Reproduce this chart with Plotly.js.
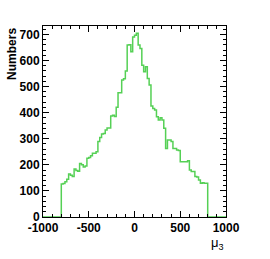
<!DOCTYPE html>
<html>
<head>
<meta charset="utf-8">
<script src="https://cdn.plot.ly/plotly-3.0.1.min.js"></script>
<style>html,body{margin:0;padding:0;background:#fff;}#chart{width:270px;height:259px;}</style>
</head>
<body>
<div id="chart"></div>
<script>
// Histogram of mu_3: 80 bins of width 20 from -800 to 800 (zero elsewhere in [-1000,1000])
const binStart = -800;
const binWidth = 20;
const counts = [
  126, 128, 135, 145, 165, 160, 155, 184, 178, 175,
  205, 200, 192, 195, 225, 228, 235, 244, 244, 250,
  289, 305, 318, 320, 333, 341, 341, 387, 390, 385,
  421, 476, 476, 525, 530, 560, 659, 660, 633, 690,
  697, 704, 659, 646, 582, 557, 576, 531, 506, 425,
  416, 410, 384, 372, 380, 372, 340, 263, 295, 295,
  289, 263, 263, 257, 255, 212, 212, 212, 212, 216,
  180, 174, 174, 155, 153, 142, 129, 131, 129, 129
];
const xRange = [-1000, 1000];
const yRange = [0, 732];
const xTicks = [-1000, -500, 0, 500, 1000];
const yTicks = [0, 100, 200, 300, 400, 500, 600, 700];

const xs = [xRange[0]];
const ys = [0];
counts.forEach((c, i) => { xs.push(binStart + i * binWidth); ys.push(c); });
xs.push(binStart + counts.length * binWidth); ys.push(0);
xs.push(xRange[1]); ys.push(0);

const tickFont = {family: 'Liberation Sans, Arial, sans-serif', size: 12, color: '#000', weight: 'bold'};

const trace = {
  x: xs, y: ys, type: 'scatter', mode: 'lines',
  line: {shape: 'hv', color: '#55d055', width: 1.5},
  hoverinfo: 'skip'
};

const axisCommon = {
  showgrid: false, zeroline: false, showline: true, linecolor: '#000', linewidth: 1,
  mirror: 'ticks', ticks: 'inside', ticklen: 6, tickcolor: '#000', tickwidth: 1,
  tickfont: tickFont
};

const layout = {
  width: 270, height: 259,
  margin: {l: 43, r: 44, t: 26, b: 42},
  paper_bgcolor: '#fff', plot_bgcolor: '#fff',
  showlegend: false,
  xaxis: Object.assign({}, axisCommon, {
    range: xRange, tickvals: xTicks, ticktext: xTicks.map(String),
    minor: {dtick: 100, ticks: 'inside', ticklen: 3, tickcolor: '#000', showgrid: false}
  }),
  yaxis: Object.assign({}, axisCommon, {
    range: yRange, tickvals: yTicks, ticktext: yTicks.map(String),
    minor: {dtick: 20, ticks: 'inside', ticklen: 3, tickcolor: '#000', showgrid: false}
  }),
  annotations: [
    {text: 'Numbers', xref: 'paper', yref: 'paper', x: -0.17, y: 1.0, xanchor: 'center', yanchor: 'top',
     textangle: -90, showarrow: false, font: {family: 'Liberation Sans, Arial, sans-serif', size: 12, color: '#000', weight: 'bold'}},
    {text: 'μ<sub>3</sub>', xref: 'paper', yref: 'paper', x: 1.0, y: -0.085, xanchor: 'right', yanchor: 'top',
     showarrow: false, font: {family: 'Liberation Sans, Arial, sans-serif', size: 13, color: '#000'}}
  ]
};

Plotly.newPlot('chart', [trace], layout, {displayModeBar: false, staticPlot: true});
</script>
</body>
</html>
